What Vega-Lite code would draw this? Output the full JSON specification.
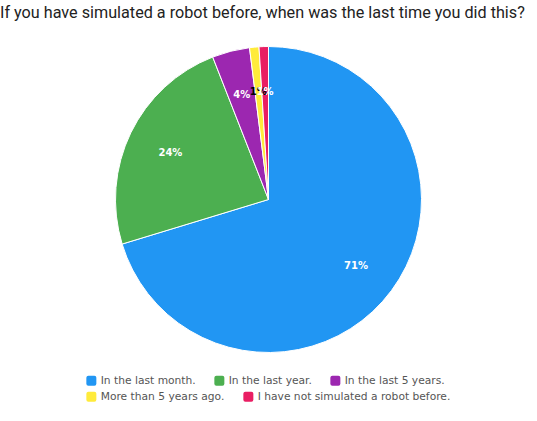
{
  "$schema": "https://vega.github.io/schema/vega-lite/v6.json",
  "autosize": {"type": "fit", "contains": "padding"},
  "width": 537,
  "height": 421,
  "padding": {"left": 0, "right": 0, "top": 4, "bottom": 19},
  "background": "white",
  "config": {
    "legend": {
      "layout": {"bottom": {"anchor": "middle", "direction": "vertical", "margin": 5, "center": false}},
      "orient": "bottom",
      "title": null,
      "columnPadding": 18,
      "labelFont": "DejaVu Sans",
      "labelFontSize": 10.7,
      "labelColor": "#555",
      "labelLimit": 300,
      "symbolType": "M-1,-0.6Q-1,-1,-0.6,-1L0.6,-1Q1,-1,1,-0.6L1,0.6Q1,1,0.6,1L-0.6,1Q-1,1,-1,0.6Z",
      "symbolSize": 100,
      "symbolStrokeWidth": 0,
      "symbolOpacity": 1,
      "labelOffset": 4
    }
  },
  "title": {
    "text": "If you have simulated a robot before, when was the last time you did this?",
    "font": "Roboto",
    "fontSize": 16.2,
    "fontWeight": "normal",
    "color": "#222",
    "anchor": "start",
    "offset": 21
  },
  "data": {
    "values": [
      {"category": "In the last month.", "value": 71, "label": "71%", "order": 1, "row": 1},
      {"category": "In the last year.", "value": 24, "label": "24%", "order": 2, "row": 1},
      {"category": "In the last 5 years.", "value": 4, "label": "4%", "order": 3, "row": 1},
      {"category": "More than 5 years ago.", "value": 1, "label": "1%", "order": 4, "row": 2},
      {"category": "I have not simulated a robot before.", "value": 1, "label": "1%", "order": 5, "row": 2}
    ]
  },
  "resolve": {"scale": {"color": "independent"}, "legend": {"color": "independent"}},
  "layer": [
    {
      "mark": {"type": "arc", "outerRadius": 153, "stroke": "white", "strokeWidth": 1},
      "encoding": {
        "theta": {"field": "value", "type": "quantitative", "stack": true},
        "order": {"field": "order", "type": "quantitative"},
        "color": {
          "field": "category",
          "type": "nominal",
          "scale": {
            "domain": ["In the last month.", "In the last year.", "In the last 5 years.", "More than 5 years ago.", "I have not simulated a robot before."],
            "range": ["#2196F3", "#4CAF50", "#9C27B0", "#FFEB3B", "#E91E63"]
          },
          "legend": null
        }
      }
    },
    {
      "mark": {"type": "text", "radius": 109, "dy": 1.5, "font": "DejaVu Sans", "fontSize": 10, "fontWeight": "bold"},
      "encoding": {
        "theta": {"field": "value", "type": "quantitative", "stack": true},
        "order": {"field": "order", "type": "quantitative"},
        "text": {"field": "label"},
        "color": {
          "condition": {"test": "datum.category === 'More than 5 years ago.'", "value": "#000"},
          "value": "white"
        }
      }
    },
    {
      "transform": [{"filter": "datum.row === 1"}],
      "mark": {"type": "point", "filled": true, "opacity": 0},
      "encoding": {
        "color": {
          "field": "category",
          "type": "nominal",
          "scale": {
            "domain": ["In the last month.", "In the last year.", "In the last 5 years."],
            "range": ["#2196F3", "#4CAF50", "#9C27B0"]
          },
          "legend": {"direction": "horizontal", "symbolOpacity": 1}
        }
      }
    },
    {
      "transform": [{"filter": "datum.row === 2"}],
      "mark": {"type": "point", "filled": true, "opacity": 0},
      "encoding": {
        "color": {
          "field": "category",
          "type": "nominal",
          "scale": {
            "domain": ["More than 5 years ago.", "I have not simulated a robot before."],
            "range": ["#FFEB3B", "#E91E63"]
          },
          "legend": {"direction": "horizontal", "symbolOpacity": 1}
        }
      }
    }
  ]
}
